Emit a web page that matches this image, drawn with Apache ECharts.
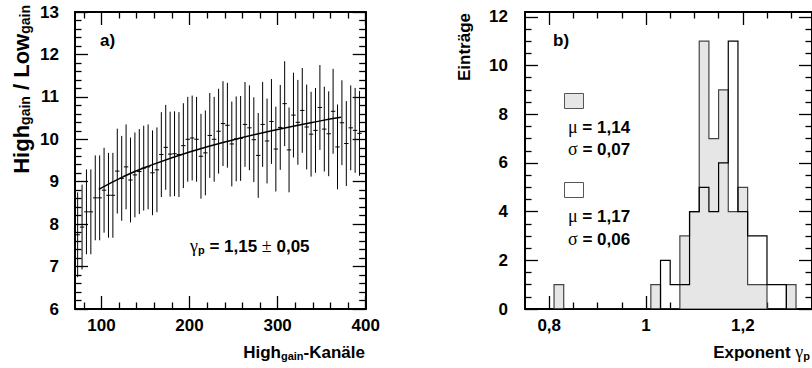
<!DOCTYPE html>
<html><head><meta charset="utf-8">
<script src="https://cdn.jsdelivr.net/npm/echarts@6/dist/echarts.min.js"></script>
<style>html,body{margin:0;padding:0;background:#fff}#c{width:812px;height:368px}</style>
</head><body><div id="c"></div>
<script>
// ---------------- data ----------------
// panel a) High_gain/Low_gain ratio vs High_gain channel
const channelX = [73,78,83,88,93,98,103,108,113,118,123,128,133,138,143,148,153,158,163,168,173,178,183,188,193,198,203,208,213,218,223,228,233,238,243,248,253,258,263,268,273,278,283,288,293,298,303,308,313,318,323,328,333,338,343,348,353,358,363,368,373,378,383,388,393];
const ratioY = [7.75,7.93,8.29,8.29,8.62,8.62,8.80,8.68,8.68,9.25,9.08,9.35,9.04,9.16,9.24,9.32,9.35,9.21,9.28,9.64,9.81,9.65,9.66,9.64,9.85,10.00,10.03,10.00,9.60,9.68,10.09,10.00,10.19,10.37,10.33,9.89,10.01,10.02,10.35,10.27,9.99,9.62,10.35,9.96,10.42,9.77,10.28,10.84,9.75,10.57,10.40,10.68,10.29,10.12,10.21,10.75,10.24,10.13,10.66,9.82,10.39,9.90,10.27,10.21,10.14];
const ratioErr = [1.0,1.0,1.0,1.0,1.0,1.0,1.0,1.0,1.0,1.0,1.0,1.0,1.0,1.0,1.0,1.0,1.0,1.0,1.0,1.0,1.0,1.0,1.0,1.0,1.0,1.0,1.0,1.0,1.0,1.0,1.0,1.0,1.0,1.0,1.0,1.0,1.0,1.0,1.0,1.0,1.0,1.0,1.0,1.0,1.0,1.0,1.0,1.0,1.0,1.0,1.0,1.0,1.0,1.0,1.0,1.0,1.0,1.0,1.0,1.0,1.0,1.0,1.0,1.0,1.0];
const channelHalfWidth = 2.5;
const fitX = [97,125,150,200,250,300,350,372];
const fitY = [8.82,9.12,9.34,9.70,9.99,10.23,10.44,10.52];

// panel b) histograms of the exponent
const binCenters = [0.82,0.84,0.86,0.88,0.90,0.92,0.94,0.96,0.98,1.00,1.02,1.04,1.06,1.08,1.10,1.12,1.14,1.16,1.18,1.20,1.22,1.24,1.26,1.28,1.30];
const binWidth = 0.02;
const countsFilled = [1,0,0,0,0,0,0,0,0,0,1,0,0,3,4,11,7,9,4,5,1,1,0,0,1];
const countsOpen   = [0,0,0,0,0,0,0,0,0,0,0,2,1,1,4,5,4,6,11,4,3,3,1,1,0];

// axes / ticks
const aXTicks = [100,200,300,400];
const aXTickLabels = ['100','200','300','400'];
const aXMinor = [80,120,140,160,180,220,240,260,280,320,340,360,380];
const aYTicks = [6,7,8,9,10,11,12,13];
const aYTickLabels = ['6','7','8','9','10','11','12','13'];
const aYMinor = [6.2,6.4,6.6,6.8,7.2,7.4,7.6,7.8,8.2,8.4,8.6,8.8,9.2,9.4,9.6,9.8,10.2,10.4,10.6,10.8,11.2,11.4,11.6,11.8,12.2,12.4,12.6,12.8];
const bXTicks = [0.8,1.0,1.2];
const bXTickLabels = ['0,8','1','1,2'];
const bXMinor = [0.85,0.9,0.95,1.05,1.1,1.15,1.25,1.3];
const bYTicks = [0,2,4,6,8,10,12];
const bYTickLabels = ['0','2','4','6','8','10','12'];
const bYMinor = [0.5,1,1.5,2.5,3,3.5,4.5,5,5.5,6.5,7,7.5,8.5,9,9.5,10.5,11,11.5];

// ---------------- chart ----------------
const FONT = "'Liberation Sans', Arial, Helvetica, sans-serif";
const SERIF = "'Liberation Serif', 'DejaVu Serif', serif";

function labelFor(values, labels, v) {
  for (let i = 0; i < values.length; i++) if (Math.abs(values[i] - v) < 1e-9) return labels[i];
  return '';
}
function mkAxis(gridIndex, min, max, position, values, len, showLine, labels, margin) {
  return {
    type: 'value', gridIndex, min, max, position,
    axisLine: {show: showLine, onZero: false, lineStyle: {color: '#000', width: 2}},
    axisTick: {show: true, inside: true, length: len, customValues: values, lineStyle: {color: '#000', width: 1.3}},
    axisLabel: labels ? {show: true, customValues: values, formatter: v => labelFor(values, labels, v),
      margin, color: '#000', fontSize: 17, fontWeight: 'bold', fontFamily: FONT} : {show: false},
    splitLine: {show: false}, minorTick: {show: false}, axisPointer: {show: false}
  };
}
const MAJ = 13, MIN = 6.5;
const xAxes = [
  mkAxis(0, 70, 400, 'bottom', aXTicks, MAJ, true, aXTickLabels, 8),
  mkAxis(0, 70, 400, 'bottom', aXMinor, MIN, false),
  mkAxis(0, 70, 400, 'top', aXTicks, MAJ, true),
  mkAxis(0, 70, 400, 'top', aXMinor, MIN, false),
  mkAxis(1, 0.75, 1.343, 'bottom', bXTicks, MAJ, true, bXTickLabels, 8),
  mkAxis(1, 0.75, 1.343, 'bottom', bXMinor, MIN, false),
  mkAxis(1, 0.75, 1.343, 'top', bXTicks, MAJ, true),
  mkAxis(1, 0.75, 1.343, 'top', bXMinor, MIN, false)
];
const yAxes = [
  mkAxis(0, 6, 13, 'left', aYTicks, MAJ, true, aYTickLabels, 16),
  mkAxis(0, 6, 13, 'left', aYMinor, MIN, false),
  mkAxis(0, 6, 13, 'right', aYTicks, MAJ, true),
  mkAxis(0, 6, 13, 'right', aYMinor, MIN, false),
  mkAxis(1, 0, 12.2, 'left', bYTicks, MAJ, true, bYTickLabels, 17),
  mkAxis(1, 0, 12.2, 'left', bYMinor, MIN, false),
  mkAxis(1, 0, 12.2, 'right', bYTicks, MAJ, true),
  mkAxis(1, 0, 12.2, 'right', bYMinor, MIN, false)
];

function errRender(params, api) {
  const x = api.value(0), y = api.value(1), e = api.value(2);
  const t = api.coord([x, y + e]), b = api.coord([x, y - e]);
  const l = api.coord([x - channelHalfWidth, y]), r = api.coord([x + channelHalfWidth, y]);
  const st = {stroke: '#000', lineWidth: 1};
  return {type: 'group', children: [
    {type: 'line', shape: {x1: t[0], y1: t[1], x2: b[0], y2: b[1]}, style: st},
    {type: 'line', shape: {x1: l[0], y1: l[1], x2: r[0], y2: r[1]}, style: st}
  ]};
}
// whole histogram drawn as one step outline (built from the bins via the axes)
function histRender(counts, fill, stroke) {
  return function (params, api) {
    if (params.dataIndex !== 0) return null;
    const pts = [];
    pts.push(api.coord([binCenters[0] - binWidth / 2, 0]));
    for (let i = 0; i < binCenters.length; i++) {
      pts.push(api.coord([binCenters[i] - binWidth / 2, counts[i]]));
      pts.push(api.coord([binCenters[i] + binWidth / 2, counts[i]]));
    }
    pts.push(api.coord([binCenters[binCenters.length - 1] + binWidth / 2, 0]));
    if (fill) {
      return {type: 'polygon', shape: {points: pts}, style: {fill, stroke, lineWidth: 1.2}};
    }
    return {type: 'polyline', shape: {points: pts}, style: {fill: null, stroke, lineWidth: 1.2}};
  };
}

const rich = {
  b: {fontSize: 17, fontWeight: 'bold', fontFamily: FONT, lineHeight: 20, verticalAlign: 'bottom', fill: '#000'},
  s: {fontSize: 11, fontWeight: 'bold', fontFamily: FONT, lineHeight: 8, verticalAlign: 'bottom', fill: '#000'},
  g: {fontSize: 18, fontWeight: 'normal', fontFamily: SERIF, lineHeight: 20, verticalAlign: 'bottom', fill: '#000'},
  B: {fontSize: 22, fontWeight: 'bold', fontFamily: FONT, lineHeight: 24, verticalAlign: 'bottom', fill: '#000'},
  S: {fontSize: 14, fontWeight: 'bold', fontFamily: FONT, lineHeight: 10, verticalAlign: 'bottom', fill: '#000'}
};
function txt(x, y, text, align, rotation) {
  return {type: 'text', x, y, rotation: rotation || 0, silent: true, z: 10,
    style: {text, rich, align, textAlign: align, verticalAlign: 'middle', textVerticalAlign: 'middle',
      fill: '#000', font: 'bold 17px ' + FONT}};
}

const option = {
  animation: false,
  backgroundColor: '#fff',
  grid: [
    {left: 75, top: 12, width: 290.7, height: 297, containLabel: false},
    {left: 525, top: 12, width: 287.5, height: 297, containLabel: false}
  ],
  xAxis: xAxes,
  yAxis: yAxes,
  series: [
    {type: 'custom', xAxisIndex: 0, yAxisIndex: 0, renderItem: errRender, clip: true,
      encode: {x: 0, y: 1},
      data: channelX.map((x, i) => [x, ratioY[i], ratioErr[i]])},
    {type: 'line', xAxisIndex: 0, yAxisIndex: 0, smooth: true, showSymbol: false, symbol: 'none',
      lineStyle: {color: '#000', width: 1.5}, z: 3,
      data: fitX.map((x, i) => [x, fitY[i]])},
    {type: 'custom', xAxisIndex: 4, yAxisIndex: 4, renderItem: histRender(countsFilled, '#e6e6e6', '#444'), clip: true,
      encode: {x: 0, y: 1},
      data: binCenters.map((c, i) => [c, countsFilled[i]])},
    {type: 'custom', xAxisIndex: 4, yAxisIndex: 4, renderItem: histRender(countsOpen, null, '#000'), clip: true, z: 3,
      encode: {x: 0, y: 1},
      data: binCenters.map((c, i) => [c, countsOpen[i]])}
  ],
  graphic: [
    txt(20, 5, '{B|High}{S|gain}{B| / Low}{S|gain}', 'right', Math.PI / 2),
    txt(365, 351, '{b|High}{s|gain}{b|-Kanäle}', 'right'),
    txt(463, 13, '{b|Einträge}', 'right', Math.PI / 2),
    txt(810, 351, '{b|Exponent }{g|γ}{s|p}', 'right'),
    txt(100, 39, '{b|a)}', 'left'),
    txt(553, 39, '{b|b)}', 'left'),
    txt(190, 245, '{g|γ}{s|p}{b| = 1,15 }{g|±}{b| 0,05}', 'left'),
    txt(568, 126, '{g|μ}{b| = 1,14}', 'left'),
    txt(568, 148, '{g|σ}{b| = 0,07}', 'left'),
    txt(568, 215, '{g|μ}{b| = 1,17}', 'left'),
    txt(568, 238, '{g|σ}{b| = 0,06}', 'left'),
    {type: 'rect', shape: {x: 564.5, y: 93.5, width: 19, height: 15}, style: {fill: '#e6e6e6', stroke: '#555', lineWidth: 1}, silent: true},
    {type: 'rect', shape: {x: 564.5, y: 182.5, width: 19, height: 15}, style: {fill: '#fff', stroke: '#555', lineWidth: 1}, silent: true}
  ]
};
const chart = echarts.init(document.getElementById('c'), null, {renderer: 'svg'});
chart.setOption(option);
</script>
</body></html>
